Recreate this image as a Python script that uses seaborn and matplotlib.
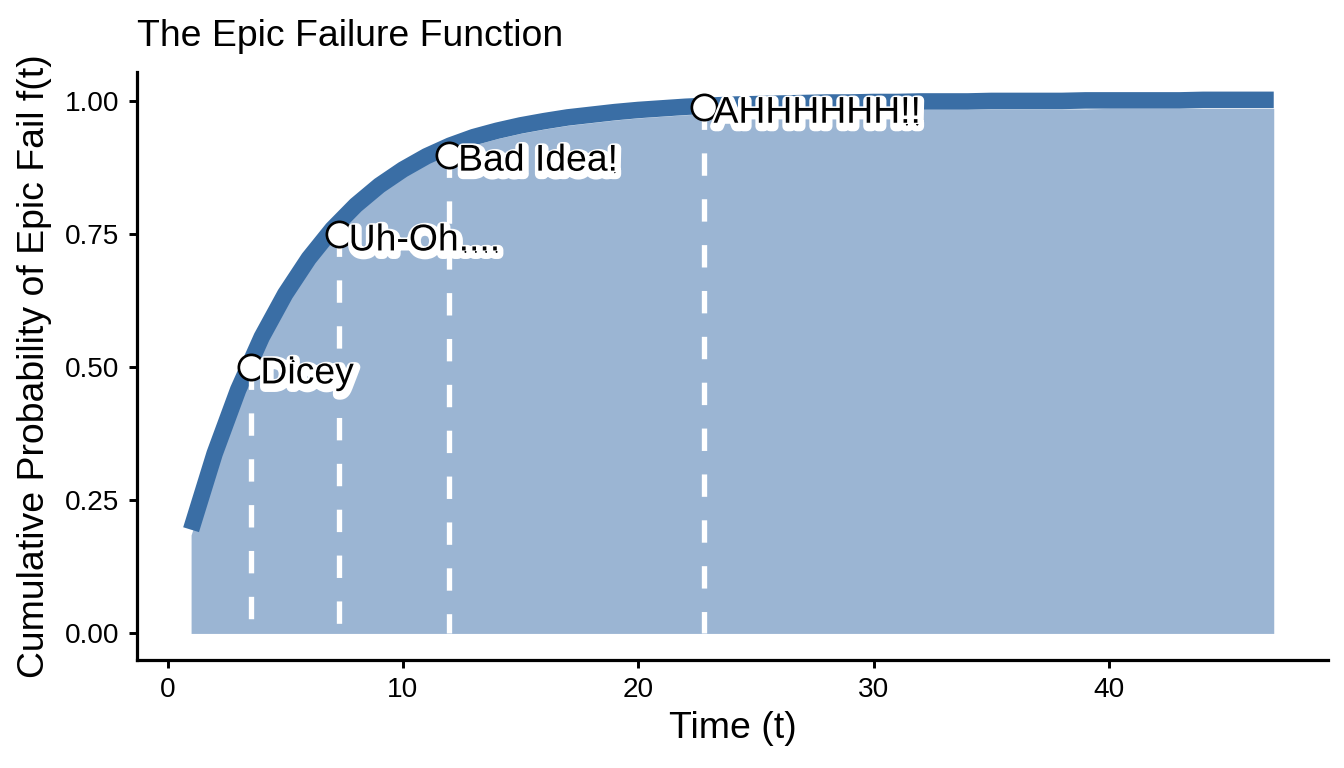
import matplotlib
matplotlib.use("Agg")
import matplotlib.pyplot as plt
import matplotlib.patheffects as pe
import seaborn as sns

# time steps and the cumulative failure probability
time_t = list(range(1, 48))
area_prob = [0.185, 0.323, 0.443, 0.542, 0.623, 0.690, 0.745, 0.790, 0.827, 0.858,
             0.883, 0.902, 0.918, 0.930, 0.940, 0.948, 0.955, 0.960, 0.965, 0.969,
             0.972, 0.975, 0.977, 0.979, 0.980, 0.981, 0.982, 0.983, 0.983, 0.984,
             0.984, 0.985, 0.985, 0.985, 0.986, 0.986, 0.986, 0.986, 0.986, 0.987,
             0.987, 0.987, 0.987, 0.987, 0.987, 0.987, 0.987]
line_prob = [0.195, 0.338, 0.458, 0.557, 0.638, 0.705, 0.760, 0.805, 0.842, 0.872,
             0.897, 0.917, 0.933, 0.945, 0.955, 0.963, 0.970, 0.975, 0.980, 0.984,
             0.987, 0.990, 0.992, 0.994, 0.995, 0.996, 0.997, 0.998, 0.998, 0.999,
             0.999, 1.000, 1.000, 1.000, 1.001, 1.001, 1.001, 1.001, 1.002, 1.002,
             1.002, 1.002, 1.002, 1.003, 1.003, 1.003, 1.003]

# annotated milestones
mark_t = [3.55, 7.3, 11.95, 22.8]
mark_p = [0.50, 0.75, 0.90, 0.99]
mark_text = ["Dicey", "Uh-Oh....", "Bad Idea!", "AHHHHHH!!"]

y_ticks = [0.0, 0.25, 0.50, 0.75, 1.00]
x_ticks = [0, 10, 20, 30, 40]

sns.set_style("ticks")
plt.rcParams["font.family"] = ["Liberation Sans", "DejaVu Sans"]
plt.rcParams["text.color"] = "black"
plt.rcParams["axes.labelcolor"] = "black"

fig = plt.figure(figsize=(7, 4), dpi=192)
ax = fig.add_axes([0.1019, 0.1406, 0.988 - 0.1019, 0.906 - 0.1406])

ax.fill_between(time_t, 0, area_prob, color="#9BB5D3", lw=0, zorder=1)
sns.lineplot(x=time_t, y=line_prob, color="#3A6EA5", lw=6.2, ax=ax,
             solid_capstyle="butt", zorder=2)
ax.vlines(mark_t, ymin=mark_p, ymax=0, colors="white", lw=2,
          linestyles=(0, (4.2, 4.4)), zorder=3)
sns.scatterplot(x=mark_t, y=mark_p, marker="o", s=90, color="white",
                edgecolor="black", linewidth=1.0, ax=ax, zorder=4)

for t, p, lab in zip(mark_t, mark_p, mark_text):
    ax.annotate(lab, (t, p), xytext=(3.5, -6), textcoords="offset points",
                ha="left", va="baseline", fontsize=14, color="black", zorder=5,
                path_effects=[pe.Stroke(linewidth=3.8, foreground="white", offset=(0.6, -1.3)),
                              pe.Normal()])

ax.set_xlim(-1.3, 49.3)
ax.set_ylim(-0.05, 1.055)
ax.set_xticks(x_ticks)
ax.set_yticks(y_ticks)
ax.set_yticklabels([f"{v:.2f}" for v in y_ticks])
ax.tick_params(axis="both", labelsize=10.5, length=3, width=1.1, color="black",
               labelcolor="black", pad=3.5)
for side in ["left", "bottom"]:
    ax.spines[side].set_linewidth(1.2)
    ax.spines[side].set_color("black")
sns.despine(ax=ax)

ax.set_xlabel("Time (t)", fontsize=14, labelpad=3)
ax.set_ylabel("Cumulative Probability of Epic Fail f(t)", fontsize=14, labelpad=5)
ax.set_title("The Epic Failure Function", fontsize=14, loc="left", pad=10)

fig.savefig("out.png", dpi=192)
plt.close(fig)
